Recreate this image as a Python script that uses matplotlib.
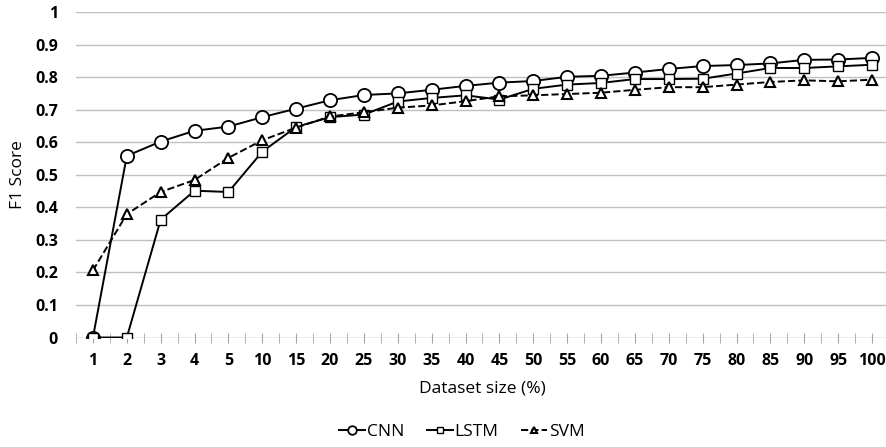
import numpy as np
import matplotlib
matplotlib.use('Agg')
from matplotlib import pyplot as plt

# dataset size categories (%)
sizes = ['1', '2', '3', '4', '5', '10', '15', '20', '25', '30', '35', '40',
         '45', '50', '55', '60', '65', '70', '75', '80', '85', '90', '95', '100']

cnn = [0.0, 0.558, 0.602, 0.635, 0.648, 0.677, 0.703, 0.729, 0.745, 0.750, 0.761, 0.773,
       0.783, 0.788, 0.801, 0.804, 0.814, 0.825, 0.834, 0.837, 0.842, 0.853, 0.854, 0.859]
lstm = [0.0, 0.0, 0.362, 0.451, 0.447, 0.571, 0.647, 0.677, 0.685, 0.725, 0.736, 0.744,
        0.731, 0.764, 0.777, 0.782, 0.794, 0.794, 0.795, 0.811, 0.828, 0.828, 0.833, 0.838]
svm = [0.206, 0.379, 0.447, 0.484, 0.552, 0.606, 0.645, 0.679, 0.692, 0.706, 0.713, 0.726,
       0.741, 0.744, 0.748, 0.752, 0.761, 0.769, 0.769, 0.777, 0.785, 0.790, 0.787, 0.792]

yticks = np.arange(0, 1.01, 0.1)
ylabels = ['0', '0.1', '0.2', '0.3', '0.4', '0.5', '0.6', '0.7', '0.8', '0.9', '1']

plt.rcParams['font.family'] = ['Open Sans', 'DejaVu Sans']

W, H = 887, 447
fig = plt.figure(figsize=(W / 100, H / 100), dpi=100)
ax = fig.add_axes([76 / W, (H - 337.5) / H, (889 - 76) / W, 325.5 / H])

x = np.arange(len(sizes))
ax.plot(x, cnn, '-', color='black', lw=1.4, marker='o', ms=9.5, mfc='white', mec='black', mew=1.3, label='CNN', zorder=3)
ax.plot(x, lstm, '-', color='black', lw=1.4, marker='s', ms=7, mfc='white', mec='black', mew=1.0, label='LSTM', zorder=4)
ax.plot(x, svm, '--', color='black', lw=1.4, marker='^', ms=7, mfc='white', mec='black', mew=1.5, label='SVM', zorder=5)

ax.set_xlim(-0.5, len(sizes) - 0.5)
ax.set_ylim(0, 1)

# gridlines, Excel style
for yv in yticks[1:]:
    ax.axhline(yv, color='#c0c0c0', lw=1.0, zorder=0)
ax.axhline(0, color='#a6a6a6', lw=1.0, zorder=1)

for s in ax.spines.values():
    s.set_visible(False)

ax.set_yticks(yticks)
ax.set_yticklabels(ylabels, fontsize=11.5, fontweight='bold')
ax.tick_params(axis='y', length=0, pad=13)

ax.set_xticks(x)
ax.set_xticklabels(sizes, fontsize=11.5, fontweight='bold')
ax.set_xticks(np.arange(-0.5, len(sizes), 1.0), minor=True)
ax.tick_params(axis='x', which='both', direction='inout', length=7, color='#a6a6a6', pad=8)

ax.set_ylabel('F1 Score', fontsize=12.5)
ax.yaxis.set_label_coords(-50 / 813, 0.5)
ax.set_xlabel('Dataset size (%)', fontsize=12.5, labelpad=8)

leg = fig.legend(loc='center', bbox_to_anchor=(462 / W, 1 - 432 / H), ncol=3, frameon=False,
                 fontsize=12.5, handlelength=1.5, handletextpad=0.1, columnspacing=1.3,
                 markerscale=0.65)

fig.savefig('out.png', dpi=100)
